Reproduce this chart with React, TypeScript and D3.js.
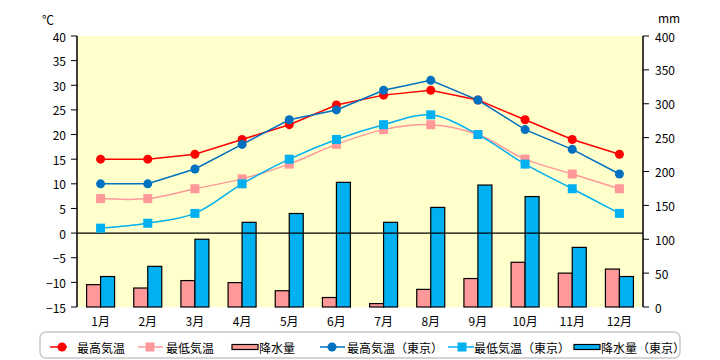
import React from "react";
import * as d3 from "d3";

const months = ["1月","2月","3月","4月","5月","6月","7月","8月","9月","10月","11月","12月"];
const maxTemp = [15,15,16,19,22,26,28,29,27,23,19,16];
const minTemp = [7,7,9,11,14,18,21,22,20,15,12,9];
const precip = [33,28,39,36,24,14,5,26,42,66,50,56];
const maxTempTokyo = [10,10,13,18,23,25,29,31,27,21,17,12];
const minTempTokyo = [1,2,4,10,15,19,22,24,20,14,9,4];
const precipTokyo = [45,60,100,125,138,184,125,147,180,163,88,45];
const tempTicks = [-15,-10,-5,0,5,10,15,20,25,30,35,40];
const precipTicks = [0,50,100,150,200,250,300,350,400];

const W = 720, H = 360;
const L = 77, R = 643, T = 36, B = 307;
const FONT = "'Noto Sans CJK JP', 'Noto Sans', sans-serif";

export default function App() {
  const x = d3.scaleBand<string>().domain(months).range([L, R]);
  const yT = d3.scaleLinear().domain([-15, 40]).range([B, T]);
  const yP = d3.scaleLinear().domain([0, 400]).range([B, T]);
  const cx = (i: number) => (x(months[i]) as number) + x.bandwidth() / 2;
  const barW = 14;

  const straight = d3.line<number>().x((_, i) => cx(i)).y((d) => yT(d));
  const smooth = d3.line<number>().x((_, i) => cx(i)).y((d) => yT(d)).curve(d3.curveCatmullRom.alpha(0.5));

  const red = "#FF0000", pink = "#FF9999", blue = "#0070C0", lblue = "#00B0F0";

  const circles = (data: number[], color: string) =>
    data.map((d, i) => <circle key={i} cx={cx(i)} cy={yT(d)} r={4.5} fill={color} />);
  const squares = (data: number[], color: string) =>
    data.map((d, i) => <rect key={i} x={cx(i) - 4.5} y={yT(d) - 4.5} width={9} height={9} fill={color} />);

  const legendY = 347;
  return (
    <svg width={W} height={H} style={{ position: "absolute", left: 0, top: 0 }} fontFamily={FONT}>
      <rect x={0} y={0} width={W} height={H} fill="#fff" />
      <rect x={L} y={T} width={R - L} height={B - T} fill="#FFFFCC" />
      {/* bars */}
      {precip.map((d, i) => (
        <rect key={"p" + i} x={cx(i) - barW} y={yP(d)} width={barW} height={B - yP(d)} fill={pink} stroke="#000" strokeWidth={1.2} />
      ))}
      {precipTokyo.map((d, i) => (
        <rect key={"pt" + i} x={cx(i)} y={yP(d)} width={barW} height={B - yP(d)} fill={lblue} stroke="#000" strokeWidth={1.2} />
      ))}
      {/* zero line */}
      <line x1={L} x2={R} y1={yT(0)} y2={yT(0)} stroke="#000" strokeWidth={1.2} />
      {/* lines */}
      <path d={smooth(minTemp) || ""} fill="none" stroke={pink} strokeWidth={1.5} />
      <path d={smooth(minTempTokyo) || ""} fill="none" stroke={lblue} strokeWidth={1.5} />
      <path d={straight(maxTemp) || ""} fill="none" stroke={red} strokeWidth={1.5} />
      <path d={straight(maxTempTokyo) || ""} fill="none" stroke={blue} strokeWidth={1.5} />
      {squares(minTemp, pink)}
      {squares(minTempTokyo, lblue)}
      {circles(maxTemp, red)}
      {circles(maxTempTokyo, blue)}
      {/* left axis */}
      <line x1={L} x2={L} y1={T} y2={B} stroke="#000" strokeWidth={1.5} />
      {tempTicks.map((t) => (
        <g key={"lt" + t}>
          <line x1={L - 6} x2={L} y1={yT(t)} y2={yT(t)} stroke="#000" />
          <text x={L - 11} y={yT(t)} textAnchor="end" dominantBaseline="central" fontSize={12}>{t === 0 ? "0" : t < 0 ? "−" + Math.abs(t) : t}</text>
        </g>
      ))}
      <text x={48} y={19} textAnchor="middle" dominantBaseline="central" fontSize={12}>℃</text>
      {/* right axis */}
      <line x1={R} x2={R} y1={T} y2={B} stroke="#000" strokeWidth={1.5} />
      {precipTicks.map((t) => (
        <g key={"rt" + t}>
          <line x1={R} x2={R + 6} y1={yP(t)} y2={yP(t)} stroke="#000" />
          <text x={655} y={yP(t)} textAnchor="start" dominantBaseline="central" fontSize={12}>{t}</text>
        </g>
      ))}
      <text x={669} y={17} textAnchor="middle" dominantBaseline="central" fontSize={12}>mm</text>
      {/* x labels */}
      {months.map((m, i) => (
        <text key={m} x={cx(i)} y={320} textAnchor="middle" dominantBaseline="central" fontSize={12}>{m}</text>
      ))}
      {/* legend */}
      <rect x={40} y={332} width={640} height={26} rx={6} fill="#fff" stroke="#C8C8C8" strokeWidth={1.5} />
      <g fontSize={12}>
        <line x1={50} x2={67} y1={legendY} y2={legendY} stroke={red} strokeWidth={1.5} />
        <circle cx={62} cy={legendY} r={4.5} fill={red} />
        <text x={77} y={legendY} dominantBaseline="central">最高気温</text>

        <line x1={138} x2={163} y1={legendY} y2={legendY} stroke={pink} strokeWidth={1.5} />
        <rect x={145.5} y={legendY - 4.5} width={9} height={9} fill={pink} />
        <text x={166} y={legendY} dominantBaseline="central">最低気温</text>

        <rect x={232} y={legendY - 2.5} width={26} height={5} fill={pink} stroke="#000" strokeWidth={1.2} />
        <text x={259} y={legendY} dominantBaseline="central">降水量</text>

        <line x1={320} x2={345} y1={legendY} y2={legendY} stroke={blue} strokeWidth={1.5} />
        <circle cx={332} cy={legendY} r={4.5} fill={blue} />
        <text x={347} y={legendY} dominantBaseline="central">最高気温（東京）</text>

        <line x1={448} x2={474} y1={legendY} y2={legendY} stroke={lblue} strokeWidth={1.5} />
        <rect x={457.5} y={legendY - 4.5} width={9} height={9} fill={lblue} />
        <text x={474} y={legendY} dominantBaseline="central">最低気温（東京）</text>

        <rect x={574} y={legendY - 2.5} width={26} height={5} fill={lblue} stroke="#000" strokeWidth={1.2} />
        <text x={601} y={legendY} dominantBaseline="central">降水量（東京）</text>
      </g>
    </svg>
  );
}
